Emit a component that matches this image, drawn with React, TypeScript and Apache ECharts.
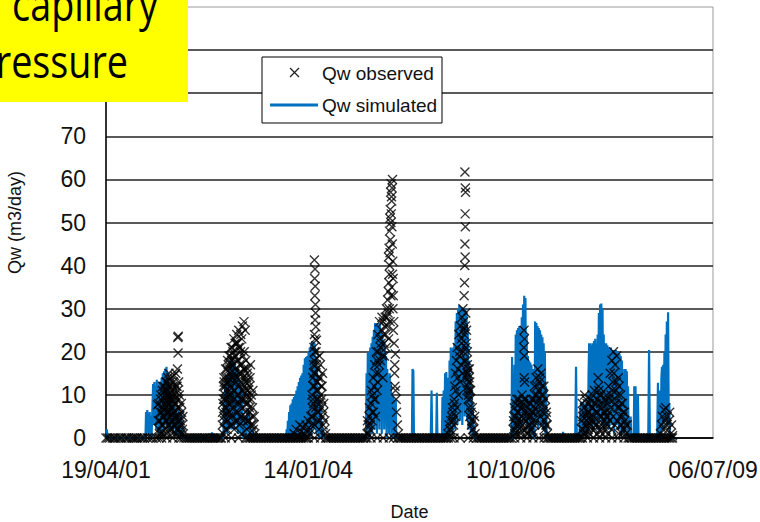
import React, { useEffect, useRef } from "react";
import * as echarts from "echarts";

// x values are days since 19/04/2001
const START_DATE = Date.UTC(2001, 3, 19);
const X_MIN = 0;
const X_MAX = 3000;
const X_INTERVAL = 1000;
const Y_MIN = 0;
const Y_MAX = 100;
const Y_INTERVAL = 10;
const Y_LABEL_MAX = 70;

const SERIES_NAMES = ["Qw observed", "Qw simulated"];

// ---------- Simulated (blue line) ----------
const simLead = [[0, 0], [4, 2], [8, 0], [190, 0]];
const simSeason1 = [[195,0],[198,6],[201,1],[204,6.5],[207,2],[210,5.5],[213,0.5],[216,6],[219,1],[222,5],[225,0],[230,8],[233,12.5],[236,3],[239,13],[242,4],[245,12],[248,2],[251,13.5],[254,3],[257,12],[260,1],[263,13],[266,5],[269,12.5],[272,1],[275,14],[278,4],[281,15],[284,2],[287,15.5],[290,6],[293,16],[296,3],[299,16.5],[302,7],[305,15],[308,2],[311,12],[314,4],[317,10],[320,2],[323,9],[326,3],[329,8],[332,1],[335,7],[338,3],[341,8],[344,2],[347,6.5],[350,1],[353,6],[356,0],[359,7],[362,2],[365,5],[368,0],[371,6],[374,1],[377,4],[380,0],[395,0]];
const simSeason2 = [[520,0],[524,1.3],[528,0],[580,0],[583,8],[586,1],[589,12],[592,3],[595,14.6],[598,1],[601,14],[604,4],[607,16],[610,2],[613,18],[616,5],[619,19],[622,2],[625,18.5],[628,6],[631,17.5],[634,2],[637,17],[640,5],[643,16.5],[646,3],[649,16],[652,1],[655,14],[658,4],[661,13],[664,1],[667,12],[670,3],[673,11],[676,0],[680,3],[683,1],[686,5],[689,0],[692,4],[695,1],[700,7],[703,2],[706,6],[709,0],[712,3],[716,0],[725,2],[728,0]];
const simSeason3 = [[880,0],[890,0],[893,2],[896,0],[899,4],[902,0.5],[905,6],[908,1],[911,7.6],[914,0],[917,8],[920,1],[923,9],[926,2],[929,9.5],[932,0],[935,10],[938,3],[941,11],[944,1],[947,12],[950,2],[953,13],[956,0],[959,14],[962,3],[965,14.5],[968,1],[971,15],[974,4],[977,17],[980,0],[983,18.5],[986,3],[989,18.8],[992,1],[995,19],[998,4],[1001,20],[1004,0],[1007,21],[1010,3],[1013,21.5],[1016,1],[1019,22.5],[1022,5],[1025,22.3],[1028,2],[1031,22],[1034,6],[1037,19],[1040,1],[1043,16],[1046,3],[1049,12],[1052,0],[1055,8],[1058,1],[1061,7],[1064,0],[1067,4],[1070,0],[1073,2],[1077,0]];
const simSeason4 = [[1285,0],[1288,15],[1291,1],[1294,19.7],[1297,3],[1300,20],[1303,0],[1306,21],[1309,4],[1312,22],[1315,1],[1318,23.5],[1321,5],[1324,25],[1327,2],[1330,26.7],[1333,6],[1336,26.5],[1339,1],[1342,26.7],[1345,7],[1348,26],[1351,2],[1354,26.7],[1357,5],[1360,25],[1363,1],[1366,24],[1369,6],[1372,22.5],[1375,2],[1378,21],[1381,4],[1384,19],[1387,0],[1390,16],[1393,3],[1396,14],[1399,1],[1402,15],[1405,3],[1408,13],[1411,0],[1414,10.4],[1417,2],[1420,9.5],[1423,0],[1426,8.8],[1429,1],[1432,9],[1435,0],[1438,0]];
const simSpikes2005 = [[1512,0],[1515,16],[1519,15.5],[1522,0],[1605,0],[1609,11],[1612,0],[1632,0],[1635,10.5],[1638,0],[1660,0],[1663,9.5],[1666,1],[1669,11],[1672,0],[1676,15],[1679,2],[1682,15.3],[1685,0],[1688,14],[1691,0]];
const simSeason5 = [[1695,0],[1698,18],[1701,2],[1704,21],[1707,4],[1710,20.5],[1713,1],[1716,21],[1719,5],[1722,22],[1725,2],[1728,27],[1731,6],[1734,29],[1737,3],[1740,30],[1743,8],[1746,30.8],[1749,4],[1752,30.5],[1755,9],[1758,30.4],[1761,3],[1764,30],[1767,10],[1770,29.5],[1773,5],[1776,30],[1779,11],[1782,29],[1785,4],[1788,25],[1791,2],[1794,18],[1797,3],[1800,15],[1803,1],[1806,12],[1809,2],[1812,8],[1815,0],[1818,3],[1821,0]];
const simSeason6 = [[1995,0],[2004,0],[2007,18.8],[2010,0],[2016,0],[2019,17],[2022,2],[2025,24],[2028,4],[2031,25],[2034,1],[2037,25.5],[2040,5],[2043,26],[2046,2],[2049,25],[2052,6],[2055,28],[2058,3],[2061,31],[2064,7],[2067,33],[2070,4],[2073,32.5],[2076,8],[2079,24],[2082,2],[2085,19],[2088,5],[2091,18],[2094,1],[2097,17.5],[2100,4],[2103,17],[2106,1],[2109,16],[2112,0],[2118,0],[2121,27],[2124,3],[2127,26.7],[2130,7],[2133,26],[2136,2],[2139,25.5],[2142,6],[2145,25],[2148,3],[2151,24],[2154,8],[2157,23.4],[2160,2],[2163,22],[2166,5],[2169,20],[2172,1],[2175,12],[2178,0],[2255,0],[2259,1.4],[2263,0],[2319,0],[2323,16.5],[2327,0]];
const simSeason7 = [[2340,0],[2343,7],[2346,0],[2349,8.4],[2352,1],[2355,8],[2358,0.5],[2361,8.2],[2364,1],[2367,7.5],[2370,2],[2373,8],[2376,0],[2379,8.4],[2382,1],[2385,15],[2388,22],[2391,3],[2394,22],[2397,5],[2400,21.5],[2403,2],[2406,22],[2409,6],[2412,22.5],[2415,3],[2418,23],[2421,7],[2424,22],[2427,2],[2430,24],[2433,8],[2436,29],[2439,4],[2442,31],[2445,9],[2448,31.2],[2451,3],[2454,30],[2457,6],[2460,24],[2463,2],[2466,22],[2469,7],[2472,22],[2475,3],[2478,21.5],[2481,6],[2484,21],[2487,2],[2490,20.5],[2493,7],[2496,21],[2499,3],[2502,20],[2505,5],[2508,20.4],[2511,1],[2514,20],[2517,6],[2520,20.4],[2523,3],[2526,20],[2529,7],[2532,20],[2535,2],[2538,19.5],[2541,5],[2544,19],[2547,1],[2550,18],[2553,4],[2556,14],[2559,1],[2562,16],[2565,3],[2568,16],[2571,4],[2574,15.5],[2577,1],[2580,12],[2583,0],[2590,0],[2593,5],[2596,0],[2608,0],[2611,12],[2614,1],[2617,12],[2620,0],[2626,0],[2629,10],[2632,0]];
const simSeason8 = [[2680,0],[2684,20.4],[2688,0],[2724,0],[2728,12.8],[2731,1],[2734,11],[2737,0],[2742,0],[2745,14],[2748,16.5],[2751,2],[2754,17],[2757,4],[2760,20],[2763,5],[2766,24],[2769,6],[2772,27],[2775,3],[2778,29.2],[2781,6],[2784,8],[2787,0],[2805,0]];

// ---------- Observed (x markers) ----------
const obsZeroDays = [0,9,18,31,40,47,60,70,78,93,102,110,124,133,141,150,158,172,181,190,205,218,230,250,262,275,300,330,360,372,385,395,404,412,420,428,437,445,453,461,470,478,486,493,502,510,519,527,535,541,549,556,564,570,590,620,655,690,700,708,715,723,731,739,746,754,762,770,779,787,795,802,810,818,826,834,842,850,858,866,873,881,889,897,905,912,920,928,936,944,952,960,968,976,985,992,1000,1030,1060,1085,1092,1100,1108,1116,1124,1132,1140,1148,1155,1163,1171,1179,1187,1195,1202,1210,1218,1226,1234,1242,1250,1258,1266,1273,1282,1290,1310,1340,1370,1400,1420,1440,1448,1456,1463,1471,1479,1487,1495,1503,1511,1519,1527,1535,1543,1550,1558,1566,1574,1582,1590,1598,1606,1613,1621,1629,1637,1645,1653,1661,1669,1676,1684,1692,1705,1720,1750,1790,1815,1830,1838,1846,1854,1862,1870,1878,1886,1893,1901,1909,1917,1925,1933,1941,1949,1957,1965,1972,1980,1988,1996,2004,2020,2050,2080,2110,2140,2165,2180,2188,2196,2204,2212,2220,2228,2236,2243,2251,2259,2267,2275,2283,2290,2298,2306,2314,2322,2330,2338,2346,2355,2380,2410,2440,2470,2500,2530,2560,2580,2588,2596,2604,2612,2620,2628,2636,2643,2651,2659,2667,2675,2683,2690,2698,2706,2714,2722,2730,2738,2746,2755,2762,2770,2778,2785,2793,2800];
const obsSeason1 = [[255,7.7],[262,2],[266,4],[270,9],[273,1],[276,6],[279,11],[282,3],[285,8],[287,12],[289,5],[292,10],[294,2],[296,13],[298,7],[300,4],[302,11],[304,9],[306,14],[308,6],[310,12],[312,3],[314,10],[316,8],[318,13],[320,5],[322,9],[324,11],[326,2],[328,7],[330,12],[332,4],[334,9],[336,6],[338,14.5],[340,10],[342,3],[344,8],[346,12],[348,5],[355,23.3],[357,23.6],[356,19.7],[354,11],[356,7],[358,2],[360,9],[363,5],[366,3],[370,1],[374,6],[378,2],[382,1]];
const obsSeason1b = [[258,4],[261,8],[264,1],[268,6],[271,10],[274,3],[277,7],[280,12],[283,5],[286,1],[288,9],[291,6],[293,11],[295,4],[297,8],[299,1],[301,13],[303,6],[305,10],[307,3],[309,8],[311,15],[313,6],[315,12],[317,2],[319,9],[321,14],[323,4],[325,7],[327,10],[329,1],[331,6],[333,13],[335,3],[337,8],[339,11],[341,5],[343,1],[345,15],[347,9],[349,2],[351,12],[353,16],[355,4],[359,13],[362,10],[365,7],[368,4],[372,8],[376,3],[380,5]];
const obsSeason2 = [[575,3],[578,8],[580,12],[582,5],[584,13],[586,9],[588,10],[590,2],[592,11],[594,14],[596,7],[598,16],[600,4],[602,13],[604,17],[606,10],[608,19],[610,6],[612,16],[614,19],[616,12],[618,21],[620,8],[622,14],[624,21],[626,3],[628,17],[630,11],[632,23],[634,9],[636,15],[638,22],[640,6],[642,19],[644,13],[646,24],[648,10],[650,22],[652,4],[654,18],[656,25],[658,12],[660,8],[662,21],[664,15],[666,24],[668,5],[670,17],[672,11],[674,26],[676,7],[678,14],[680,16],[682,27],[684,12],[686,9],[688,25],[690,6],[692,13],[694,10],[696,2],[698,15],[700,8],[702,11],[705,4],[708,12],[711,6],[714,17],[717,9],[720,3],[724,7],[728,2],[732,5],[736,1]];
const obsSeason2b = [[576,6],[579,1],[581,9],[583,14],[585,4],[587,7],[589,12],[591,16],[593,6],[595,9],[597,13],[599,2],[601,18],[603,8],[605,14],[607,5],[609,11],[611,15],[613,9],[615,3],[617,17],[619,10],[621,18],[623,5],[625,13],[627,20],[629,7],[631,14],[633,2],[635,19],[637,11],[639,16],[641,4],[643,22],[645,8],[647,14],[649,18],[651,10],[653,6],[655,21],[657,15],[659,3],[661,17],[663,9],[665,20],[667,13],[669,1],[671,23],[673,15],[675,9],[677,19],[679,4],[681,11],[683,20],[685,16],[687,5],[689,13],[691,18],[693,8],[695,14],[697,11],[699,4],[701,16],[703,9],[706,13],[709,7],[712,14],[715,3],[718,10],[722,5],[726,11],[730,3]];
const obsSeason3 = [[930,1],[940,2],[950,0.5],[958,3],[965,1.5],[972,2.5],[980,1],[988,3],[995,2],[1000,4],[1030,41.3],[1033,39.2],[1031,37],[1034,35.2],[1032,33],[1035,31],[1036,29],[1033,27.4],[1037,25.8],[1030,24],[1040,22.7],[1028,21],[1038,20],[1042,18.5],[1026,17],[1044,16],[1035,15],[1022,14],[1046,13],[1030,12],[1040,11],[1018,10],[1048,9],[1026,8],[1036,7],[1050,6],[1020,5],[1044,4],[1032,3],[1052,2],[1055,19],[1060,14],[1062,10],[1065,7],[1068,12],[1070,5],[1073,3],[1076,8],[1080,2],[1085,1]];
const obsSeason3b = [[1005,1],[1010,2],[1012,5],[1015,3],[1019,7],[1022,9],[1024,12],[1027,15],[1029,18],[1031,20],[1034,23],[1038,17],[1041,13],[1043,9],[1046,6],[1049,11],[1051,14],[1054,8],[1057,4],[1060,17],[1063,12],[1066,9],[1070,15],[1075,6],[1082,4]];
const obsSeason4 = [[1290,1],[1295,3],[1300,5],[1305,2],[1310,8],[1315,4],[1318,10],[1322,6],[1326,12],[1330,9],[1334,15],[1338,18],[1342,13],[1346,20],[1350,17],[1354,23],[1358,21],[1362,25],[1366,19],[1370,27],[1374,22],[1378,26],[1382,24],[1386,30],[1388,28],[1392,32],[1395,34],[1398,36],[1400,38],[1402,40],[1396,42],[1404,43],[1399,44],[1406,46],[1401,48],[1408,50],[1403,51],[1410,52],[1405,53],[1412,55],[1407,57],[1414,58],[1409,59],[1416,60],[1411,56],[1413,49],[1415,45],[1417,41],[1419,37],[1420,33],[1418,30],[1422,27],[1430,19.5],[1426,15],[1428,12],[1434,9],[1436,6],[1440,3],[1445,1]];
const obsSeason4b = [[1292,4],[1297,1],[1302,7],[1307,3],[1312,11],[1316,6],[1320,14],[1324,9],[1328,17],[1332,5],[1336,20],[1340,11],[1344,24],[1348,15],[1352,27],[1356,18],[1360,22],[1364,28],[1368,14],[1372,24],[1376,19],[1380,28],[1384,21],[1390,26],[1394,29],[1397,23],[1400,30],[1404,27],[1408,33],[1412,35],[1416,38],[1420,25],[1424,22],[1427,17],[1431,11]];
const obsSeason5 = [[1690,1],[1696,3],[1702,2],[1708,5],[1712,7],[1716,4],[1720,9],[1724,12],[1728,15],[1732,18],[1736,21],[1740,16],[1744,24],[1748,20],[1752,26],[1756,23],[1760,28],[1764,30],[1766,25],[1768,27],[1770,33],[1772,36],[1773,40],[1775,42],[1774,45],[1776,49],[1775,52],[1777,57],[1776,58],[1774,61.7],[1778,29],[1780,22],[1782,18],[1784,15],[1786,17],[1788,12],[1790,16],[1792,10],[1794,14],[1796,11],[1798,13],[1800,9],[1804,6],[1808,4],[1812,2],[1818,4],[1824,1]];
const obsSeason5b = [[1698,2],[1704,4],[1710,1],[1714,6],[1718,3],[1722,8],[1726,5],[1730,11],[1734,7],[1738,14],[1742,10],[1746,19],[1750,13],[1754,17],[1758,22],[1762,15],[1766,20],[1770,24],[1772,18],[1776,26],[1778,21],[1780,14],[1782,25],[1784,11],[1786,20],[1788,15],[1790,9],[1792,13],[1794,7],[1796,16],[1798,5],[1802,11],[1806,3],[1810,7],[1816,2],[1822,5]];
const obsSeason6 = [[2012,2],[2016,5],[2020,1],[2024,8],[2028,3],[2032,6],[2036,4],[2040,9],[2044,2],[2048,7],[2052,5],[2056,10],[2060,3],[2064,8],[2065,9],[2066,25],[2067,14],[2068,23],[2069,13],[2065,21],[2067,19],[2070,6],[2074,2],[2078,4],[2082,7],[2086,1],[2090,5],[2094,3],[2098,8],[2102,2],[2106,6],[2110,4],[2114,9],[2118,12],[2122,7],[2126,14],[2130,10],[2134,16],[2138,11],[2142,13],[2146,8],[2150,15],[2154,12],[2158,6],[2162,10],[2166,4],[2170,7],[2174,3],[2178,5],[2182,1]];
const obsSeason6b = [[2014,4],[2018,7],[2022,2],[2026,5],[2030,9],[2034,1],[2038,6],[2042,3],[2046,8],[2050,1],[2054,4],[2058,7],[2062,2],[2072,9],[2076,5],[2080,1],[2084,6],[2088,3],[2092,8],[2096,2],[2100,5],[2104,9],[2108,1],[2112,6],[2116,3],[2120,10],[2124,4],[2128,8],[2132,12],[2136,6],[2140,9],[2144,14],[2148,5],[2152,10],[2156,3],[2160,8],[2164,12],[2168,2],[2172,9],[2176,6],[2180,3]];
const obsSeason7 = [[2352,2],[2356,5],[2360,1],[2364,7],[2368,3],[2372,9],[2376,4],[2380,6],[2384,2],[2388,8],[2392,5],[2396,3],[2400,7],[2404,10],[2408,4],[2412,8],[2416,2],[2420,6],[2424,3],[2428,9],[2432,14],[2434,12],[2436,11],[2438,10],[2440,5],[2444,8],[2448,3],[2452,7],[2456,2],[2460,6],[2464,4],[2468,9],[2472,5],[2476,3],[2480,8],[2484,12],[2488,6],[2492,15],[2496,10],[2500,18],[2504,13],[2508,20],[2512,9],[2516,17],[2520,11],[2524,19],[2528,7],[2532,14],[2536,12],[2540,5],[2544,10],[2548,3],[2552,8],[2556,6],[2560,2],[2564,4],[2570,1],[2576,3]];
const obsSeason7b = [[2350,4],[2354,8],[2358,2],[2362,6],[2366,10],[2370,1],[2374,5],[2378,8],[2382,3],[2386,6],[2390,1],[2394,9],[2398,4],[2402,2],[2406,7],[2410,5],[2414,11],[2418,3],[2422,8],[2426,1],[2430,6],[2442,2],[2446,10],[2450,5],[2454,1],[2458,8],[2462,3],[2466,6],[2470,2],[2474,10],[2478,5],[2482,1],[2486,9],[2490,4],[2494,7],[2498,2],[2502,11],[2506,5],[2510,15],[2514,3],[2518,8],[2522,13],[2526,4],[2530,10],[2534,1],[2538,7],[2542,3],[2546,8],[2550,1],[2554,5],[2558,2],[2562,6],[2568,3]];
const obsSeason8 = [[2740,1],[2745,3],[2750,5],[2754,2],[2758,6.5],[2762,4],[2766,7],[2770,3],[2774,5],[2778,2],[2782,4],[2786,6],[2790,1],[2795,3],[2800,0.5]];

const BLUE = "#0070C0";
const FONT = "'Liberation Sans', Arial, sans-serif";
const X_MARK = "path://M0,0L10,10M10,0L0,10";

function fmtDate(v: number) {
  const d = new Date(START_DATE + v * 86400000);
  const dd = String(d.getUTCDate()).padStart(2, "0");
  const mm = String(d.getUTCMonth() + 1).padStart(2, "0");
  const yy = String(d.getUTCFullYear() % 100).padStart(2, "0");
  return `${dd}/${mm}/${yy}`;
}

export default function App() {
  const ref = useRef<HTMLDivElement>(null);
  useEffect(() => {
    if (!ref.current) return;
    const chart = echarts.init(ref.current, null, { renderer: "svg" });
    const simData = [
      ...simLead, ...simSeason1, ...simSeason2, ...simSeason3, ...simSeason4,
      ...simSpikes2005, ...simSeason5, ...simSeason6, ...simSeason7, ...simSeason8,
    ];
    const obsData = [
      ...obsZeroDays.map((d) => [d, 0]),
      ...obsSeason1, ...obsSeason1b, ...obsSeason2, ...obsSeason2b,
      ...obsSeason3, ...obsSeason3b, ...obsSeason4, ...obsSeason4b,
      ...obsSeason5, ...obsSeason5b, ...obsSeason6, ...obsSeason6b,
      ...obsSeason7, ...obsSeason7b, ...obsSeason8,
    ];
    chart.setOption({
      animation: false,
      backgroundColor: "#fff",
      textStyle: { fontFamily: FONT },
      grid: {
        left: 106, right: 47, top: 7, bottom: 84,
        outerBoundsMode: "none",
        containLabel: false,
        show: true, borderColor: "#9a9a9a", borderWidth: 1,
      },
      xAxis: {
        type: "value", min: X_MIN, max: X_MAX, interval: X_INTERVAL,
        axisLine: { show: true, onZero: false, lineStyle: { color: "#000", width: 1.5 } },
        axisTick: { show: false },
        splitLine: { show: false },
        axisLabel: { fontSize: 23, color: "#111", margin: 20, formatter: (v: number) => fmtDate(v) },
        name: "Date", nameLocation: "middle", nameGap: 65,
        nameTextStyle: { fontSize: 18, color: "#111" },
      },
      yAxis: {
        type: "value", min: Y_MIN, max: Y_MAX, interval: Y_INTERVAL,
        axisLine: { show: true, lineStyle: { color: "#000", width: 1.5 } },
        axisTick: { show: false },
        splitLine: { show: true, showMaxLine: false, lineStyle: { color: "#222", width: 1.5 } },
        axisLabel: {
          fontSize: 23, color: "#111", margin: 20,
          formatter: (v: number) => (v <= Y_LABEL_MAX ? String(v) : ""),
        },
        name: "Qw (m3/day)", nameLocation: "middle", nameRotate: 90, nameGap: 82,
        nameTextStyle: { fontSize: 18, color: "#111" },
      },
      series: [
        {
          name: SERIES_NAMES[1], type: "line", data: simData,
          showSymbol: false, symbol: "none",
          lineStyle: { color: BLUE, width: 2.2 }, z: 2,
        },
        {
          name: SERIES_NAMES[0], type: "scatter", data: obsData,
          symbol: X_MARK, symbolSize: 9,
          itemStyle: { color: "transparent", borderColor: "#000", borderWidth: 1.4 },
          z: 3,
        },
      ],
      graphic: [
        {
          type: "group", z: 100,
          children: [
            { type: "rect", shape: { x: 262, y: 57, width: 180, height: 66 }, style: { fill: "#fff", stroke: "#000", lineWidth: 1 }, z: 100 },
            { type: "line", shape: { x1: 290, y1: 68, x2: 299, y2: 77 }, style: { stroke: "#222", lineWidth: 1.2 }, z: 101 },
            { type: "line", shape: { x1: 299, y1: 68, x2: 290, y2: 77 }, style: { stroke: "#222", lineWidth: 1.2 }, z: 101 },
            { type: "text", x: 322, y: 73, style: { text: SERIES_NAMES[0], fontSize: 19, fontFamily: FONT, fill: "#111", textVerticalAlign: "middle", verticalAlign: "middle" }, z: 101 },
            { type: "line", shape: { x1: 270, y1: 105, x2: 318, y2: 105 }, style: { stroke: BLUE, lineWidth: 3 }, z: 101 },
            { type: "text", x: 322, y: 105, style: { text: SERIES_NAMES[1], fontSize: 19, fontFamily: FONT, fill: "#111", textVerticalAlign: "middle", verticalAlign: "middle" }, z: 101 },
            { type: "rect", shape: { x: 0, y: 0, width: 188, height: 102 }, style: { fill: "#FFFF00" }, z: 102 },
            { type: "text", x: 158, y: 3, scaleX: 0.82, style: { text: "capillary", fontSize: 46, fontFamily: "'Open Sans', sans-serif", fill: "#000", textAlign: "right", align: "right", textVerticalAlign: "middle", verticalAlign: "middle" }, z: 103 },
            { type: "text", x: 128, y: 60, scaleX: 0.82, style: { text: "pressure", fontSize: 46, fontFamily: "'Open Sans', sans-serif", fill: "#000", textAlign: "right", align: "right", textVerticalAlign: "middle", verticalAlign: "middle" }, z: 103 },
          ],
        },
      ],
    });
    return () => chart.dispose();
  }, []);
  return (
    <div
      ref={ref}
      style={{ position: "fixed", left: 0, top: 0, width: 760, height: 522 }}
    />
  );
}
